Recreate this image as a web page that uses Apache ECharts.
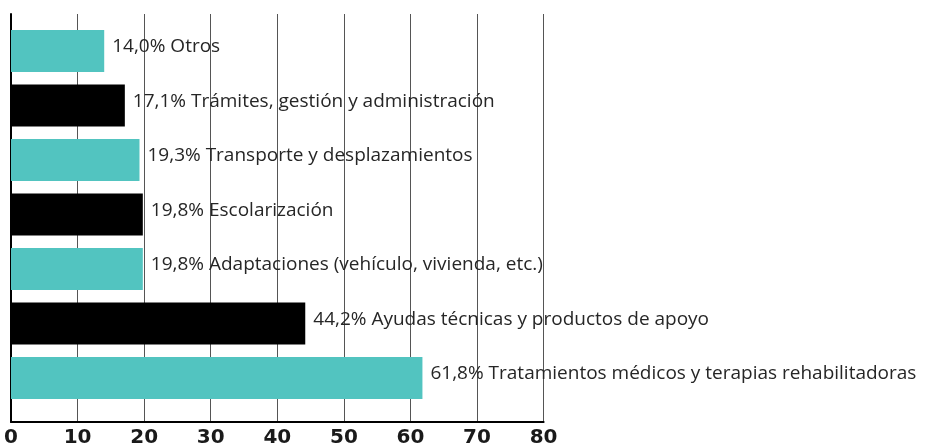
<!DOCTYPE html>
<html>
<head>
<meta charset="utf-8">
<script src="https://cdn.jsdelivr.net/npm/echarts@6/dist/echarts.min.js"></script>
<style>html,body{margin:0;padding:0;background:#fff;}#c{width:928px;height:448px;}</style>
</head>
<body>
<div id="c"></div>
<script>
const categories = [
  'Otros',
  'Trámites, gestión y administración',
  'Transporte y desplazamientos',
  'Escolarización',
  'Adaptaciones (vehículo, vivienda, etc.)',
  'Ayudas técnicas y productos de apoyo',
  'Tratamientos médicos y terapias rehabilitadoras'
];
const values = [14.0, 17.1, 19.3, 19.8, 19.8, 44.2, 61.8];
const xTicks = [0, 10, 20, 30, 40, 50, 60, 70, 80];

const TEAL = '#52c4c0';
const BLACK = '#000000';
const chart = echarts.init(document.getElementById('c'));
chart.setOption({
  animation: false,
  grid: [
    { left: 11, right: 384.4, top: 14, bottom: 24 },
    { left: 11, right: 384.4, top: 23.75, bottom: 42.75 }
  ],
  xAxis: [
    {
      gridIndex: 0, type: 'value', min: xTicks[0], max: xTicks[xTicks.length - 1], interval: 10,
      axisLine: { show: true, lineStyle: { color: '#000', width: 2 } },
      axisTick: { show: false },
      splitLine: { show: true, lineStyle: { color: '#555', width: 1 } },
      axisLabel: { color: '#1a1a1a', fontFamily: 'DejaVu Sans', fontWeight: 'bold', fontSize: 20, margin: 6 }
    },
    { gridIndex: 1, type: 'value', min: 0, max: 80, show: false }
  ],
  yAxis: [
    {
      gridIndex: 0, type: 'value', min: 0, max: 1,
      axisLine: { show: true, lineStyle: { color: '#000', width: 2 } },
      axisTick: { show: false }, axisLabel: { show: false }, splitLine: { show: false }
    },
    { gridIndex: 1, type: 'category', data: categories, inverse: true, show: false }
  ],
  series: [{
    type: 'bar',
    xAxisIndex: 1, yAxisIndex: 1,
    data: values,
    barWidth: 42,
    itemStyle: { color: p => (p.dataIndex % 2 === 0 ? TEAL : BLACK) },
    label: {
      show: true, position: 'right', distance: 8, offset: [0, -4],
      color: '#262626', fontFamily: 'Open Sans', fontWeight: 500, fontSize: 19,
      formatter: p => p.value.toFixed(1).replace('.', ',') + '% ' + p.name
    }
  }]
});
</script>
</body>
</html>
